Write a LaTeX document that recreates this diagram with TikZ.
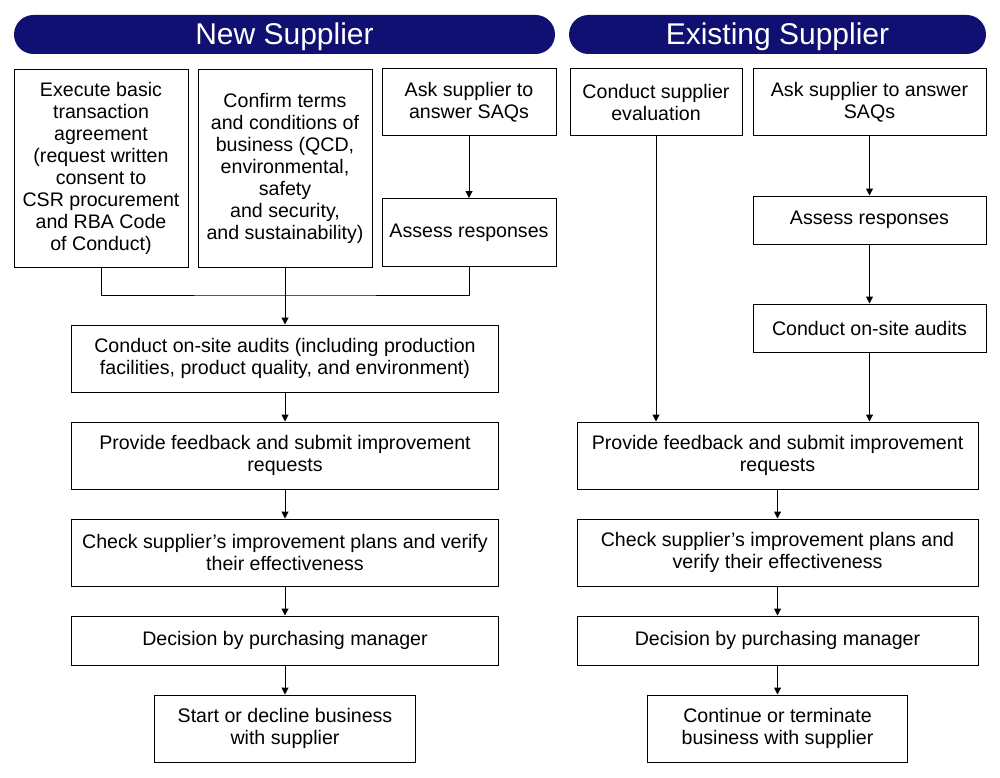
\documentclass[tikz,border=0pt]{standalone}
\usepackage{fontspec}
\setmainfont{Liberation Sans}
\usetikzlibrary{arrows.meta}
\definecolor{navy}{RGB}{16,16,114}
\newcommand{\headtext}[1]{\raisebox{-2.5pt}[\height][\depth]{#1}}

\begin{document}
\begin{tikzpicture}[x=1pt,y=-1pt,
    box/.style={draw=black,line width=1pt,fill=white,inner sep=0pt,align=center,
        font=\fontsize{19.6}{22}\selectfont},
    header/.style={fill=navy,text=white,inner sep=0pt,rounded corners=19.5pt,
        minimum height=39pt,font=\fontsize{30}{32}\selectfont},
    arr/.style={line width=1pt,-{Triangle[width=7pt,length=7pt]}},
    link/.style={line width=1pt}]
\useasboundingbox (0,0) rectangle (1000,778);
% headers
\node[header,minimum width=541pt] (hnew) at (284.5,34.5) {\headtext{New Supplier}};
\node[header,minimum width=417pt] (hold) at (777.5,34.5) {\headtext{Existing Supplier}};
% new supplier
\node[box,minimum width=174pt,minimum height=197pt] (agree) at (101,168.5)
    {Execute basic\\transaction\\agreement\\(request written\\consent to\\CSR procurement\\and RBA Code\\of Conduct)};
\node[box,minimum width=174pt,minimum height=197pt] (terms) at (285,168.5)
    {Confirm terms\\and conditions of\\business (QCD,\\environmental,\\safety\\and security,\\and sustainability)};
\node[box,minimum width=174pt,minimum height=67pt] (saqnew) at (469,102.5)
    {Ask supplier to\\answer SAQs};
\node[box,minimum width=174pt,minimum height=68pt] (assnew) at (469,232.5)
    {Assess responses};
\node[box,minimum width=427pt,minimum height=67pt] (auditnew) at (285,358.5)
    {Conduct on-site audits (including production\\facilities, product quality, and environment)};
\node[box,minimum width=427pt,minimum height=67pt] (feednew) at (285,455.5)
    {Provide feedback and submit improvement\\requests};
\node[box,minimum width=427pt,minimum height=67pt] (checknew) at (285,552.5)
    {Check supplier’s improvement plans and verify\\their effectiveness};
\node[box,minimum width=427pt,minimum height=49pt] (decnew) at (285,640.5)
    {Decision by purchasing manager};
\node[box,minimum width=261pt,minimum height=67pt] (start) at (285,728.5)
    {Start or decline business\\with supplier};
% existing supplier
\node[box,minimum width=172pt,minimum height=67pt] (eval) at (656,102.5)
    {Conduct supplier\\evaluation};
\node[box,minimum width=233pt,minimum height=67pt] (saqold) at (869.5,102.5)
    {Ask supplier to answer\\SAQs};
\node[box,minimum width=233pt,minimum height=48pt] (assold) at (869.5,220)
    {Assess responses};
\node[box,minimum width=233pt,minimum height=48pt] (auditold) at (869.5,328)
    {Conduct on-site audits};
\node[box,minimum width=401pt,minimum height=67pt] (feedold) at (777.5,455.5)
    {Provide feedback and submit improvement\\requests};
\node[box,minimum width=401pt,minimum height=67pt] (checkold) at (777.5,552.5)
    {Check supplier’s improvement plans and\\verify their effectiveness};
\node[box,minimum width=401pt,minimum height=49pt] (decold) at (777.5,640.5)
    {Decision by purchasing manager};
\node[box,minimum width=260pt,minimum height=67pt] (cont) at (777.5,728.5)
    {Continue or terminate\\business with supplier};
% connectors, new supplier
\coordinate (join) at (285,295);
\draw[link] (agree.south) |- (join) -| (assnew.south);
\draw[arr] (terms.south) -- (auditnew.north);
\draw[arr] (saqnew.south) -- (assnew.north);
\draw[arr] (auditnew) -- (feednew);
\draw[arr] (feednew) -- (checknew);
\draw[arr] (checknew) -- (decnew);
\draw[arr] (decnew) -- (start);
% connectors, existing supplier
\draw[arr] (eval.south) -- (eval.south |- feedold.north);
\draw[arr] (saqold) -- (assold);
\draw[arr] (assold) -- (auditold);
\draw[arr] (auditold.south) -- (auditold.south |- feedold.north);
\draw[arr] (feedold) -- (checkold);
\draw[arr] (checkold) -- (decold);
\draw[arr] (decold) -- (cont);
\end{tikzpicture}
\end{document}
